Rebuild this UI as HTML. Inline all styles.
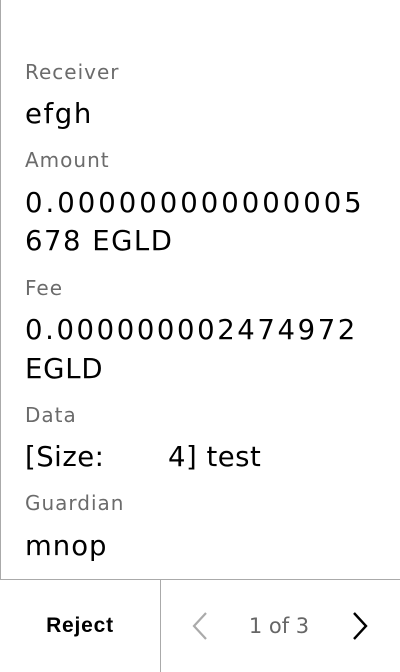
<!DOCTYPE html>
<html><head><meta charset="utf-8">
<style>
html,body{margin:0;padding:0;background:#fff;}
body{width:400px;height:672px;position:relative;overflow:hidden;font-family:"DejaVu Sans","Liberation Sans",sans-serif;}
.l{position:absolute;left:25px;font-size:20px;color:#6b6b6b;height:30px;line-height:30px;letter-spacing:1px;white-space:nowrap;}
.v{position:absolute;left:25px;font-size:27.5px;color:#000;height:38px;line-height:38px;white-space:nowrap;}
</style></head>
<body>
<div style="position:absolute;left:0;top:0;width:1px;height:580px;background:#aaa"></div>

<div class="l" style="top:57px">Receiver</div>
<div class="v" style="top:95px;letter-spacing:1.6px">efgh</div>

<div class="l" style="top:145px">Amount</div>
<div class="v" style="top:184px;letter-spacing:3px">0.000000000000005</div>
<div class="v" style="top:222px;letter-spacing:1.5px">678 EGLD</div>

<div class="l" style="top:273px">Fee</div>
<div class="v" style="top:311px;letter-spacing:2.6px">0.000000002474972</div>
<div class="v" style="top:350px;letter-spacing:0.8px">EGLD</div>

<div class="l" style="top:400px">Data</div>
<div class="v" style="top:438px;letter-spacing:0.5px">[Size:<span style="position:absolute;left:143px">4] test</span></div>

<div class="l" style="top:488px">Guardian</div>
<div class="v" style="top:527px;letter-spacing:1px">mnop</div>

<div style="position:absolute;left:0;top:579px;width:400px;height:1px;background:#aaa"></div>
<div style="position:absolute;left:160px;top:580px;width:1px;height:92px;background:#aaa"></div>

<div style="position:absolute;left:0;top:580px;width:160px;height:92px;line-height:92px;text-align:center;font-size:21px;font-weight:bold;color:#000;font-family:'Liberation Sans',sans-serif;letter-spacing:0.8px">Reject</div>

<svg style="position:absolute;left:186px;top:608px" width="28" height="36" viewBox="0 0 28 36"><polyline points="20,5 8,18 20,31" fill="none" stroke="#aaa" stroke-width="2.2"/></svg>
<div style="position:absolute;left:240px;top:608px;width:78px;height:36px;line-height:36px;text-align:center;font-size:21px;color:#666">1 of 3</div>
<svg style="position:absolute;left:347px;top:608px" width="28" height="36" viewBox="0 0 28 36"><polyline points="7,5 19,18 7,31" fill="none" stroke="#000" stroke-width="2.4"/></svg>
</body></html>
